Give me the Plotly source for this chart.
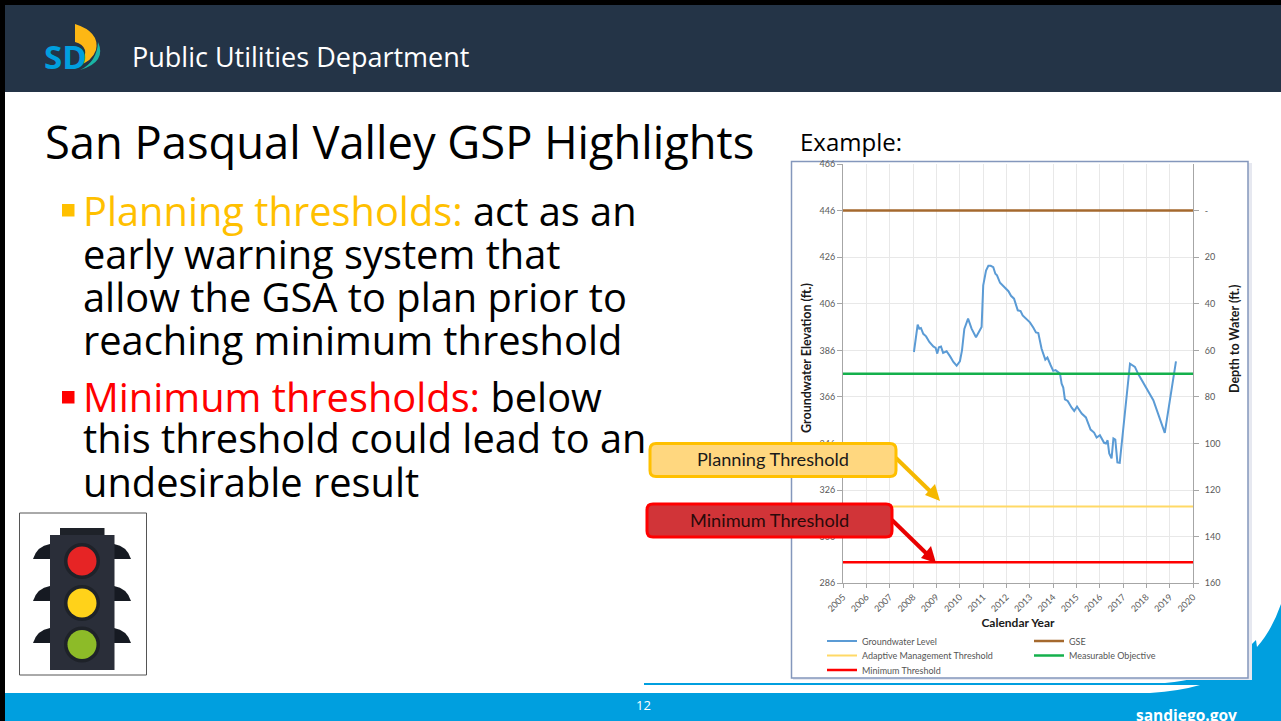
import plotly.graph_objects as go

W, H = 1281, 721

# ---- chart data ----
years = [2008.04,2008.20,2008.27,2008.34,2008.44,2008.56,2008.70,2008.87,2008.97,2009.04,2009.11,2009.20,2009.29,2009.44,2009.59,2009.73,2009.87,2010.01,2010.10,2010.20,2010.36,2010.51,2010.70,2010.94,2011.01,2011.13,2011.23,2011.33,2011.44,2011.53,2011.60,2011.73,2011.90,2012.09,2012.20,2012.33,2012.49,2012.61,2012.70,2012.87,2013.01,2013.16,2013.27,2013.37,2013.51,2013.67,2013.76,2013.90,2014.01,2014.11,2014.30,2014.37,2014.44,2014.51,2014.63,2014.80,2014.91,2015.03,2015.23,2015.41,2015.61,2015.76,2015.87,2016.01,2016.19,2016.27,2016.34,2016.41,2016.51,2016.59,2016.67,2016.76,2016.86,2017.30,2017.51,2017.66,2018.30,2018.79,2019.27]
groundwater = [385.3,397.0,395.3,395.6,393.1,392.0,389.6,387.7,387.1,384.6,387.3,387.6,384.9,385.6,383.4,381.0,379.4,381.3,386.0,395.2,399.6,395.3,391.6,396.0,413.9,420.3,422.3,422.3,421.7,418.9,418.2,415.0,413.3,411.4,409.4,408.2,403.2,402.9,401.0,399.2,398.0,395.7,393.7,393.4,386.7,382.0,382.9,379.6,377.2,377.5,376.0,371.7,370.0,365.0,364.3,361.4,360.0,361.9,358.9,357.2,352.0,350.7,348.6,349.6,346.3,346.0,347.4,341.7,339.6,348.2,347.7,337.9,337.7,380.3,378.9,375.7,364.6,350.6,381.3]
span_years = [2005, 2020]
gse = [446, 446]
measurable_objective = [376, 376]
adaptive_threshold = [319, 319]
minimum_threshold = [295, 295]
elev_ticks = [286, 306, 326, 346, 366, 386, 406, 426, 446, 466]
depth_ticks = [0, 20, 40, 60, 80, 100, 120, 140, 160]
depth_labels = ["-", "20", "40", "60", "80", "100", "120", "140", "160"]
year_ticks = list(range(2005, 2021))

CHART_FONT = "Lato"
SLIDE_FONT = "Open Sans"
BLUE = "#009FDF"


def X(p):
    return p / W


def Y(p):
    return 1 - p / H


def path(*cmds):
    """Build an SVG path in paper coordinates from slide pixel pairs."""
    out = []
    for c in cmds:
        if isinstance(c, str):
            out.append(c)
        else:
            out.append(f"{X(c[0]):.5f},{Y(c[1]):.5f}")
    return " ".join(out)


shapes = []


def rect(x0, y0, x1, y1, fill, line=None, lw=0, layer="below"):
    shapes.append(dict(type="rect", xref="paper", yref="paper", x0=X(x0), x1=X(x1), y0=Y(y0), y1=Y(y1),
                       fillcolor=fill, line=dict(color=line or fill, width=lw), layer=layer))


def poly(d, fill, line=None, lw=0, layer="below"):
    shapes.append(dict(type="path", xref="paper", yref="paper", path=d, fillcolor=fill,
                       line=dict(color=line or fill, width=lw), layer=layer))


def circle(cx, cy, r, fill, layer="below"):
    shapes.append(dict(type="circle", xref="paper", yref="paper", x0=X(cx - r), x1=X(cx + r),
                       y0=Y(cy - r), y1=Y(cy + r), fillcolor=fill, line=dict(width=0), layer=layer))


def seg(x0, y0, x1, y1, color, lw, layer="above"):
    shapes.append(dict(type="line", xref="paper", yref="paper", x0=X(x0), x1=X(x1), y0=Y(y0), y1=Y(y1),
                       line=dict(color=color, width=lw), layer=layer))


def rounded(x0, y0, x1, y1, r):
    return path("M", (x0 + r, y0), "L", (x1 - r, y0), "Q", (x1, y0), (x1, y0 + r), "L", (x1, y1 - r),
                "Q", (x1, y1), (x1 - r, y1), "L", (x0 + r, y1), "Q", (x0, y1), (x0, y1 - r),
                "L", (x0, y0 + r), "Q", (x0, y0), (x0 + r, y0), "Z")


# slide frame
rect(0, 0, W, 5, "#000000")
rect(0, 0, 5, H, "#000000")
rect(5, 5, W, 92, "#243447")

# footer with swoosh
poly(path("M", (5, 693), "L", (1150, 693), "Q", (1180, 691), (1200, 685), "L", (644, 685),
          "L", (644, 683), "L", (1165, 683), "Q", (1185, 681), (1195, 678), "L", (1248, 678),
          "L", (1248, 648), "L", (1256, 640), "L", (1257, 647),
          "Q", (1272, 630), (W, 604), "L", (W, H), "L", (5, H), "Z"), BLUE)

# chart panel
rect(793, 163, 1252, 680, "#E6E8F0")
rect(791.5, 161.5, 1248, 678, "#FFFFFF", "#8497BC", 1.5)

# logo
poly(path("M", (75, 24), "Q", (100, 32), (96, 50), "Q", (92, 62), (77, 66), "Q", (87, 56), (85, 50), "Q", (83, 44), (75, 42), "Z"), "#FDB714")
poly(path("M", (98, 42), "Q", (107, 62), (80, 70), "Q", (97, 62), (98, 42), "Z"), "#1AB5A5")

# traffic light
rect(19.5, 513, 146.5, 675, "#FFFFFF", "#555555", 1)
for dy in (0, 42, 84):
    poly(path("M", (50, 544 + dy), "Q", (37, 546 + dy), (33, 559 + dy), "L", (50, 559 + dy), "Z"), "#161A22")
    poly(path("M", (114, 544 + dy), "Q", (127, 546 + dy), (131, 559 + dy), "L", (114, 559 + dy), "Z"), "#161A22")
rect(60, 528, 104.5, 536, "#1E2229")
rect(50, 535, 114.5, 670, "#2A2E39")
for cy, col in ((561, "#E62425"), (603, "#FFD21A"), (644.5, "#8DBB28")):
    circle(82, cy, 18, "#1E2229")
    circle(82, cy, 14.5, col)

# bullets
rect(62, 204, 74.5, 216.5, "#FFC000")
rect(62, 391, 74.5, 403.5, "#FF0000")

# callouts (on top of chart)
seg(896, 458, 933, 494, "#F5B800", 4)
poly(path("M", (940, 501), "L", (925, 495), "L", (935, 484), "Z"), "#F5B800", layer="above")
poly(rounded(650, 443.5, 896, 476.5, 6), "#FFD77F", "#FFC000", 3, "above")
seg(892, 520, 929, 556, "#E80000", 4)
poly(path("M", (936, 563), "L", (921, 558), "L", (931, 546), "Z"), "#E80000", layer="above")
poly(rounded(647, 504, 892, 537, 6), "#D13438", "#FF0000", 3, "above")

annotations = []


def note(x, y, text, size, color="#000000", font=SLIDE_FONT, anchor="left", angle=0, bold=False):
    t = f"<b>{text}</b>" if bold else text
    annotations.append(dict(xref="paper", yref="paper", x=X(x), y=Y(y), text=t, showarrow=False, xanchor=anchor,
                            yanchor="middle", textangle=angle, align="left",
                            font=dict(family=font, size=size, color=color)))


note(129.5, 57, "Public Utilities Department", 27, "#FFFFFF")
note(43, 141, "San Pasqual Valley GSP Highlights", 45.3)
note(798, 141.5, "Example:", 24)
note(81, 210, "<span style='color:#FFC000'>Planning thresholds:</span> act as an", 39.8)
note(81, 253, "early warning system that", 39.8)
note(81, 296, "allow the GSA to plan prior to", 39.8)
note(81, 339, "reaching minimum threshold", 39.8)
note(81, 396, "<span style='color:#FF0000'>Minimum thresholds:</span> below", 39.8)
note(81, 438, "this threshold could lead to an", 39.8)
note(81, 481, "undesirable result", 39.8)
note(643, 705, "12", 13, "#FFFFFF", anchor="center")
note(1186, 715, "sandiego.gov", 15.5, "#FFFFFF", anchor="center", bold=True)
note(772.5, 459, "Planning Threshold", 18.2, "#1A1A1A", CHART_FONT, "center")
note(769, 520, "Minimum Threshold", 18.2, "#2A0A0A", CHART_FONT, "center")
note(65, 57, "SD", 33, BLUE, "Open Sans", "center", bold=True)
note(806, 358, "Groundwater Elevation (ft.)", 12.5, "#1A1A1A", CHART_FONT, "center", -90, True)
note(1234, 339, "Depth to Water (ft.)", 12.5, "#1A1A1A", CHART_FONT, "center", -90, True)

fig = go.Figure()
series = [
    ("Groundwater Level", years, groundwater, "#5B9BD5", 2, "legend", 862, 641),
    ("Adaptive Management Threshold", span_years, adaptive_threshold, "#FFD966", 2, "legend2", 862, 655.5),
    ("Minimum Threshold", span_years, minimum_threshold, "#FF0000", 2.5, "legend3", 862, 670),
    ("GSE", span_years, gse, "#A5692E", 2.5, "legend4", 1069, 641),
    ("Measurable Objective", span_years, measurable_objective, "#14B04C", 2.5, "legend5", 1069, 655.5),
]
legends = {}
for name, xs, ys, color, lw, leg, lx, ly in series:
    fig.add_trace(go.Scatter(x=xs, y=ys, mode="lines", name=name, line=dict(color=color, width=lw),
                             legend=leg, showlegend=True))
    legends[leg] = dict(xref="paper", yref="paper", x=X(lx - 40), y=Y(ly), xanchor="left", yanchor="middle",
                        bgcolor="rgba(0,0,0,0)", borderwidth=0, itemwidth=30, itemclick=False,
                        font=dict(family=CHART_FONT, size=9, color="#555555"))

# invisible carrier so the right-hand depth axis is drawn
fig.add_trace(go.Scatter(x=span_years, y=[0, 0], yaxis="y2", mode="lines", line=dict(width=0),
                         showlegend=False, hoverinfo="skip"))

TICKFONT = dict(family=CHART_FONT, size=9, color="#595959")
fig.update_layout(
    width=W, height=H, margin=dict(l=0, r=0, t=0, b=0, autoexpand=False),
    paper_bgcolor="#FFFFFF", plot_bgcolor="rgba(0,0,0,0)", showlegend=True,
    shapes=shapes, annotations=annotations,
    xaxis=dict(domain=[X(843), X(1193)], range=[2005, 2020], tickmode="array", tickvals=year_ticks,
               ticktext=[str(y) for y in year_ticks], tickangle=-45, ticks="outside", ticklen=4,
               tickcolor="#A6A6A6", showline=True, linecolor="#A6A6A6", linewidth=1,
               showgrid=True, gridcolor="#E8E8E8", gridwidth=1, zeroline=False, tickfont=TICKFONT,
               title=dict(text="<b>Calendar Year</b>", standoff=5,
                          font=dict(family=CHART_FONT, size=12, color="#1A1A1A"))),
    yaxis=dict(domain=[Y(583.3), Y(164)], range=[286, 466], tickmode="array", tickvals=elev_ticks,
               ticks="outside", ticklen=5, tickcolor="#A6A6A6", showline=True, linecolor="#A6A6A6", linewidth=1,
               showgrid=True, gridcolor="#E8E8E8", gridwidth=1, zeroline=False, tickfont=TICKFONT),
    yaxis2=dict(domain=[Y(583.3), Y(164)], range=[160, -20], overlaying="y", side="right", anchor="x",
                tickmode="array", tickvals=depth_ticks, ticktext=depth_labels, ticks="outside", ticklen=5,
                tickcolor="#A6A6A6", showline=True, linecolor="#A6A6A6", linewidth=1, showgrid=False,
                zeroline=False, tickfont=TICKFONT, ticklabelstandoff=4),
    **legends,
)

fig.write_html("out.html", config={"displayModeBar": False},
               post_script="document.body.style.margin='0';document.documentElement.style.overflow='hidden';")
